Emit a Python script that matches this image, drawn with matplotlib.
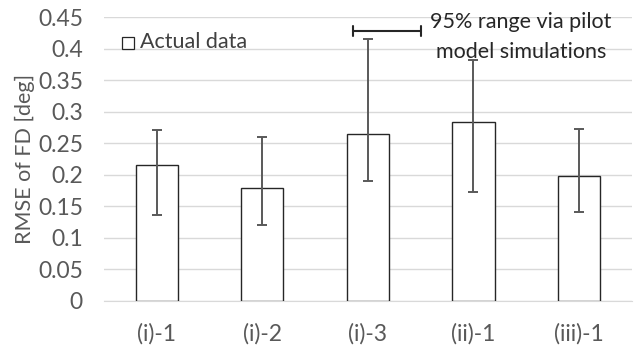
import matplotlib.pyplot as plt
from matplotlib.patches import Rectangle

plt.rcParams['font.family'] = ['Lato', 'DejaVu Sans']

# data
categories = ['(i)-1', '(i)-2', '(i)-3', '(ii)-1', '(iii)-1']
rmse = [0.215, 0.178, 0.264, 0.283, 0.197]
err_low = [0.136, 0.120, 0.190, 0.173, 0.141]
err_high = [0.270, 0.260, 0.415, 0.382, 0.273]

yerr = [[v - lo for v, lo in zip(rmse, err_low)],
        [hi - v for v, hi in zip(rmse, err_high)]]

fig = plt.figure(figsize=(6.37, 3.47), dpi=100)
ax = fig.add_axes([0.163, 0.134, 0.829, 0.817])

x = range(len(categories))
ax.bar(x, rmse, width=0.4, color='white', edgecolor='#262626', linewidth=1.0, zorder=3)
ax.errorbar(x, rmse, yerr=yerr, fmt='none', ecolor='#595959', elinewidth=1.4,
            capsize=3.5, capthick=1.4, zorder=4)

ax.set_xlim(-0.5, 4.5)
ax.set_ylim(0, 0.45)
ax.set_yticks([i * 0.05 for i in range(10)])
ax.set_yticklabels(['0', '0.05', '0.1', '0.15', '0.2', '0.25', '0.3', '0.35', '0.4', '0.45'])
ax.set_xticks(list(x))
ax.set_xticklabels(categories)
ax.tick_params(axis='both', length=0, labelsize=16.5, colors='#595959')
ax.tick_params(axis='x', pad=16)
ax.tick_params(axis='y', pad=15)
ax.yaxis.grid(True, color='#d9d9d9', linewidth=1.0, zorder=0)
ax.set_axisbelow(True)
for s in ['top', 'right', 'left']:
    ax.spines[s].set_visible(False)
ax.spines['bottom'].set_color('#d9d9d9')
ax.set_ylabel('RMSE of FD [deg]', fontsize=15.5, color='#595959', labelpad=2)

# legend: actual data
fig.patches.append(Rectangle((122 / 637, 1 - 48.5 / 347), 11.5 / 637, 11.5 / 347,
                             transform=fig.transFigure, facecolor='white',
                             edgecolor='#262626', linewidth=0.9))
fig.text(140 / 637, 1 - 42.5 / 347, 'Actual data', fontsize=15.5, color='#404040',
         va='center', ha='left')

# legend: 95% range
ax.annotate('', xy=(421 / 637, 1 - 31 / 347), xytext=(353 / 637, 1 - 31 / 347),
            xycoords='figure fraction', textcoords='figure fraction',
            arrowprops=dict(arrowstyle='|-|, widthA=0.35, widthB=0.35', color='#262626',
                            lw=1.5, shrinkA=0, shrinkB=0))
fig.text(521 / 637, 1 - 37 / 347, '95% range via pilot\nmodel simulations', fontsize=15.5,
         color='#262626', ha='center', va='center', linespacing=1.6)

fig.savefig('out.png', dpi=100)
